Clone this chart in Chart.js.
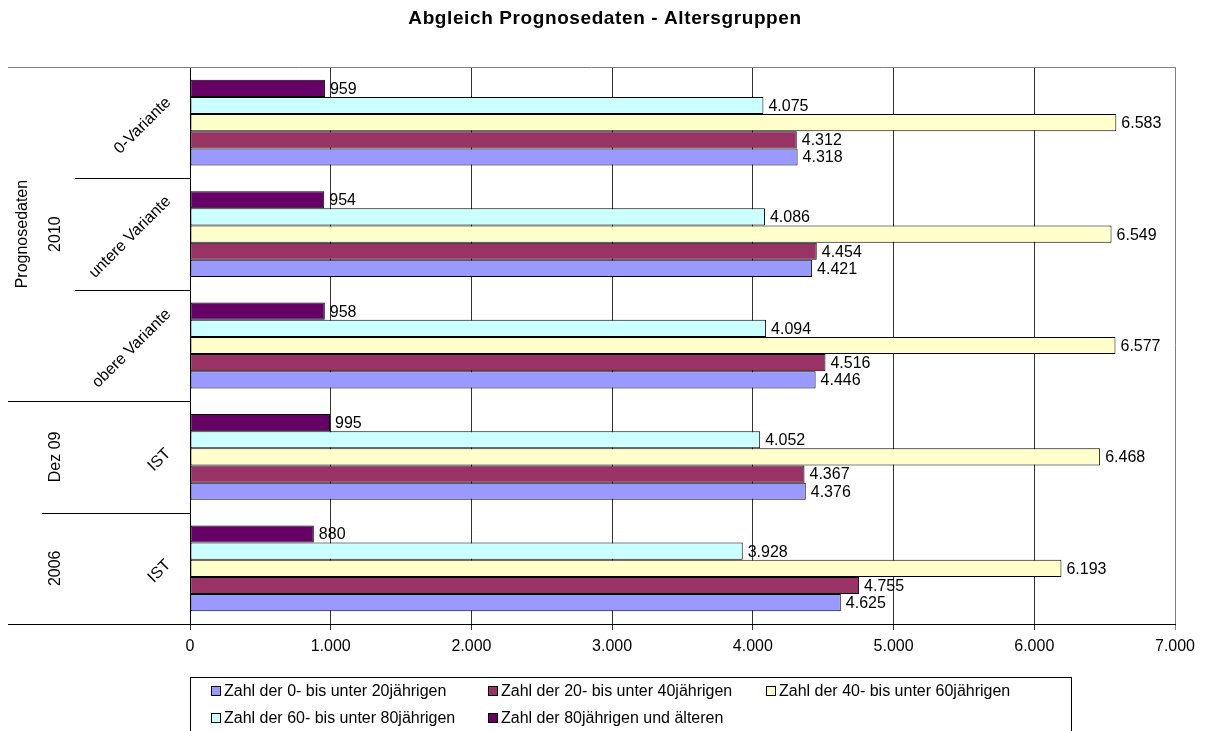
<!DOCTYPE html>
<html>
<head>
<meta charset="utf-8">
<script src="https://cdn.jsdelivr.net/npm/chart.js@4"></script>
<style>
  body { margin: 0; background: #fff; font-family: "Liberation Sans", Arial, sans-serif; }
  #wrap { position: relative; width: 1210px; height: 731px; overflow: hidden; }
  #chart { position: absolute; left: 0; top: 0; }
  #legend {
    position: absolute; left: 190px; top: 677px; width: 882px; height: 70px;
    border: 1px solid #000; box-sizing: border-box; font-size: 16px; color: #000;
  }
  .item { position: absolute; white-space: nowrap; line-height: 18px; }
  .box { display: inline-block; width: 8px; height: 8px; border: 1px solid #000; margin-right: 3px; vertical-align: 0px; }
</style>
</head>
<body>
<div id="wrap">
  <canvas id="chart" width="1210" height="731"></canvas>
  <div id="legend"></div>
</div>
<script>
// categories, top to bottom
const variantLabels = ['0-Variante', 'untere Variante', 'obere Variante', 'IST', 'IST'];
const periodLabels = ['2010', '2010', '2010', 'Dez 09', '2006'];
const sourceLabels = ['Prognosedaten', 'Prognosedaten', 'Prognosedaten', '', ''];

const seriesNames = [
  'Zahl der 0- bis unter 20jährigen',
  'Zahl der 20- bis unter 40jährigen',
  'Zahl der 40- bis unter 60jährigen',
  'Zahl der 60- bis unter 80jährigen',
  'Zahl der 80jährigen und älteren'
];
const seriesColors = ['#9999FF', '#993366', '#FFFFCC', '#CCFFFF', '#660066'];

const age0to20 = [4318, 4421, 4446, 4376, 4625];
const age20to40 = [4312, 4454, 4516, 4367, 4755];
const age40to60 = [6583, 6549, 6577, 6468, 6193];
const age60to80 = [4075, 4086, 4094, 4052, 3928];
const age80plus = [959, 954, 958, 995, 880];

const xTicks = [0, 1000, 2000, 3000, 4000, 5000, 6000, 7000];

const titleText = 'Abgleich Prognosedaten - Altersgruppen';
const FONT = '"Liberation Sans", Arial, sans-serif';
const fmt = v => String(v).replace(/\B(?=(\d{3})+(?!\d))/g, '.');

const seriesValues = [age0to20, age20to40, age40to60, age60to80, age80plus];
// purple on top of each group, blue at the bottom
const datasets = seriesValues.map((vals, i) => ({
  label: seriesNames[i],
  data: vals,
  backgroundColor: seriesColors[i],
  borderColor: '#000',
  borderWidth: 1,
  borderSkipped: false,
  categoryPercentage: 0.77,
  barPercentage: 1.0
})).reverse();

const valueLabels = {
  id: 'valueLabels',
  afterDatasetsDraw(chart) {
    const ctx = chart.ctx;
    ctx.save();
    ctx.font = '16px ' + FONT;
    ctx.fillStyle = '#000';
    ctx.textAlign = 'left';
    ctx.textBaseline = 'middle';
    chart.data.datasets.forEach((ds, di) => {
      chart.getDatasetMeta(di).data.forEach((el, i) => {
        ctx.fillText(fmt(ds.data[i]), el.x + 5, el.y + 1);
      });
    });
    ctx.restore();
  }
};

const groupAxis = {
  id: 'groupAxis',
  afterDraw(chart) {
    const ctx = chart.ctx;
    const y = chart.scales.y;
    const area = chart.chartArea;
    const n = variantLabels.length;
    const step = y.getPixelForValue(1) - y.getPixelForValue(0);
    const top = i => y.getPixelForValue(i) - step / 2;
    ctx.save();

    // title
    ctx.fillStyle = '#000';
    ctx.font = 'bold 19px ' + FONT;
    ctx.letterSpacing = '0.6px';
    ctx.textAlign = 'center';
    ctx.textBaseline = 'middle';
    ctx.fillText(titleText, chart.width / 2, 19);
    ctx.letterSpacing = '0px';

    // frame lines
    ctx.lineWidth = 1;
    ctx.strokeStyle = '#808080';
    ctx.beginPath();
    ctx.moveTo(8, area.top + 0.5); ctx.lineTo(area.right, area.top + 0.5);
    ctx.stroke();
    ctx.strokeStyle = '#000';
    ctx.beginPath();
    ctx.moveTo(8, area.bottom + 0.5); ctx.lineTo(area.left, area.bottom + 0.5);
    ctx.stroke();

    // separators between categories
    for (let i = 1; i < n; i++) {
      let x0 = 75;
      if (sourceLabels[i] !== sourceLabels[i - 1]) x0 = 8;
      else if (periodLabels[i] !== periodLabels[i - 1]) x0 = 42;
      const yy = Math.round(top(i)) + 0.5;
      ctx.beginPath();
      ctx.moveTo(x0, yy); ctx.lineTo(area.left, yy);
      ctx.stroke();
    }

    ctx.font = '16px ' + FONT;

    // inner level, 45 degrees
    variantLabels.forEach((t, i) => {
      const w = ctx.measureText(t).width;
      const cx = area.left - 16 - (w + 16) * 0.3536;
      const cy = y.getPixelForValue(i) + 3;
      ctx.save();
      ctx.translate(cx, cy);
      ctx.rotate(-Math.PI / 4);
      ctx.fillText(t, 0, 0);
      ctx.restore();
    });

    // outer levels, vertical
    const drawSpans = (labels, x) => {
      let s = 0;
      for (let i = 1; i <= n; i++) {
        if (i === n || labels[i] !== labels[s]) {
          if (labels[s]) {
            const cy = (top(s) + top(i)) / 2;
            ctx.save();
            ctx.translate(x, cy);
            ctx.rotate(-Math.PI / 2);
            ctx.fillText(labels[s], 0, 0);
            ctx.restore();
          }
          s = i;
        }
      }
    };
    drawSpans(periodLabels, 56);
    drawSpans(sourceLabels, 23);
    ctx.restore();
  }
};

new Chart(document.getElementById('chart'), {
  type: 'bar',
  data: { labels: variantLabels, datasets: datasets },
  options: {
    indexAxis: 'y',
    responsive: false,
    animation: false,
    devicePixelRatio: 1,
    layout: { padding: { left: 10, right: 35, top: 67, bottom: 67 } },
    plugins: {
      legend: { display: false },
      tooltip: { enabled: false },
      title: { display: false }
    },
    scales: {
      x: {
        min: 0, max: 7000,
        afterBuildTicks: s => { s.ticks = xTicks.map(v => ({ value: v })); },
        afterFit: s => { s.height = 40; },
        ticks: {
          color: '#000',
          font: { family: FONT, size: 16 },
          padding: 7,
          maxRotation: 0,
          callback: v => fmt(v)
        },
        grid: {
          color: c => (c.tick && c.tick.value === 7000 ? '#808080' : '#333'),
          tickLength: 6,
          lineWidth: 1
        },
        border: { color: '#000' }
      },
      y: {
        afterFit: s => { s.width = 180; },
        ticks: { display: false },
        grid: { display: false },
        border: { color: '#000' }
      }
    }
  },
  plugins: [valueLabels, groupAxis]
});

// legend, two rows of three columns
const legend = document.getElementById('legend');
const colX = [20, 297, 575];
seriesNames.forEach((name, i) => {
  const d = document.createElement('div');
  d.className = 'item';
  d.style.left = colX[i % 3] + 'px';
  d.style.top = (i < 3 ? 4 : 31) + 'px';
  d.innerHTML = '<span class="box" style="background:' + seriesColors[i] + '"></span>' + name;
  legend.appendChild(d);
});
</script>
</body>
</html>
